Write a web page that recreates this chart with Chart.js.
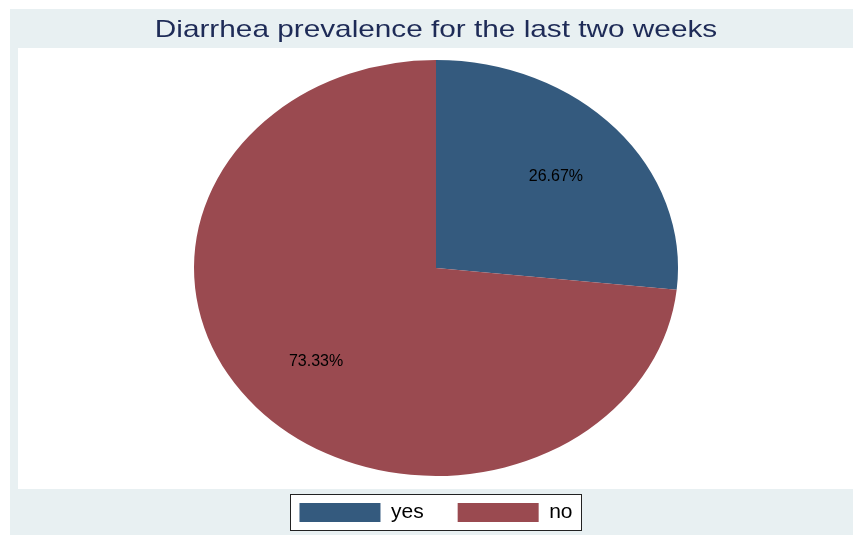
<!DOCTYPE html>
<html>
<head>
<meta charset="utf-8">
<script src="https://cdn.jsdelivr.net/npm/chart.js@4"></script>
<style>
html, body { margin: 0; padding: 0; background: #fff; }
#wrap { width: 853px; height: 535px; }
</style>
</head>
<body>
<div id="wrap"><canvas id="pieChart"></canvas></div>
<script>
const categories = ['yes', 'no'];
const shares = [26.67, 73.33];
const sliceColors = ['#345a7e', '#9a4a50'];
const titleText = 'Diarrhea prevalence for the last two weeks';

const fontFamily = '"Liberation Sans", Arial, Helvetica, sans-serif';
const stretchX = 242 / 208; // pie is drawn as an ellipse
const titleStretch = 1.24;  // title glyphs are wider in the original

// outer grey band + white plot region + legend box fill
const backdrop = {
    id: 'backdrop',
    beforeDraw(chart) {
        const c = chart.ctx;
        c.save();
        c.fillStyle = '#ffffff';
        c.fillRect(0, 0, chart.width, chart.height);
        c.fillStyle = '#e8f0f2';
        c.fillRect(10, 9, chart.width - 10, chart.height - 9);
        c.fillStyle = '#ffffff';
        c.fillRect(18, 48, chart.width - 18, 441);
        const box = legendFrame(chart);
        if (box) c.fillRect(box.x, box.y, box.w, box.h);
        c.restore();
    },
    afterLayout(chart) {
        // widen the title horizontally around its centre
        const tb = chart.titleBlock;
        if (!tb || tb._wide) return;
        const orig = tb.draw;
        tb.draw = function (area) {
            const c = chart.ctx;
            const cx = (this.left + this.right) / 2;
            c.save();
            c.translate(cx, 0);
            c.scale(titleStretch, 1);
            c.translate(-cx, 0);
            orig.call(this, area);
            c.restore();
        };
        tb._wide = true;
    },
    afterDraw(chart) {
        const box = legendFrame(chart);
        if (!box) return;
        const c = chart.ctx;
        c.save();
        c.strokeStyle = '#222';
        c.lineWidth = 1;
        c.strokeRect(Math.round(box.x) + 0.5, Math.round(box.y) + 0.5, Math.round(box.w), Math.round(box.h));
        c.restore();
    }
};

function legendFrame(chart) {
    const hb = chart.legend && chart.legend.legendHitBoxes;
    if (!hb || !hb.length) return null;
    const first = hb[0];
    const last = hb[hb.length - 1];
    const x = first.left - 9;
    const y = first.top - 8;
    return { x: x, y: y, w: last.left + last.width + 9 - x, h: first.height + 15 };
}

// squash the round pie into an ellipse, then put the % labels on
const squash = {
    id: 'squash',
    beforeDatasetsDraw(chart) {
        const arc = chart.getDatasetMeta(0).data[0];
        const c = chart.ctx;
        c.save();
        c.translate(arc.x, arc.y);
        c.scale(stretchX, 1);
        c.translate(-arc.x, -arc.y);
    },
    afterDatasetsDraw(chart) {
        chart.ctx.restore();
        const c = chart.ctx;
        c.save();
        c.fillStyle = '#000';
        c.font = '16px ' + fontFamily;
        c.textAlign = 'center';
        c.textBaseline = 'middle';
        chart.getDatasetMeta(0).data.forEach((arc, i) => {
            const p = arc.getProps(['x', 'y', 'startAngle', 'endAngle', 'outerRadius'], true);
            const mid = (p.startAngle + p.endAngle) / 2;
            const r = p.outerRadius * 2 / 3;
            c.fillText(shares[i].toFixed(2) + '%', p.x + Math.cos(mid) * r * stretchX, p.y + Math.sin(mid) * r + 1);
        });
        c.restore();
    }
};

const ctx = document.getElementById('pieChart');

new Chart(ctx, {
    type: 'pie',
    data: {
        labels: categories,
        datasets: [{
            data: shares,
            backgroundColor: sliceColors,
            borderWidth: 0,
            radius: 208,
            clip: false
        }]
    },
    plugins: [backdrop, squash],
    options: {
        responsive: true,
        maintainAspectRatio: false,
        animation: false,
        layout: {
            padding: { left: 19, right: 0, top: 0, bottom: 2 }
        },
        plugins: {
            title: {
                display: true,
                text: titleText,
                color: '#1e2b57',
                font: { family: fontFamily, size: 24, weight: 'normal', lineHeight: 1 },
                padding: { top: 18, bottom: 26 }
            },
            legend: {
                display: true,
                position: 'bottom',
                labels: {
                    color: '#000',
                    boxWidth: 81,
                    boxHeight: 19,
                    padding: 34,
                    font: { family: fontFamily, size: 21 }
                }
            },
            tooltip: { enabled: false }
        }
    }
});
</script>
</body>
</html>
